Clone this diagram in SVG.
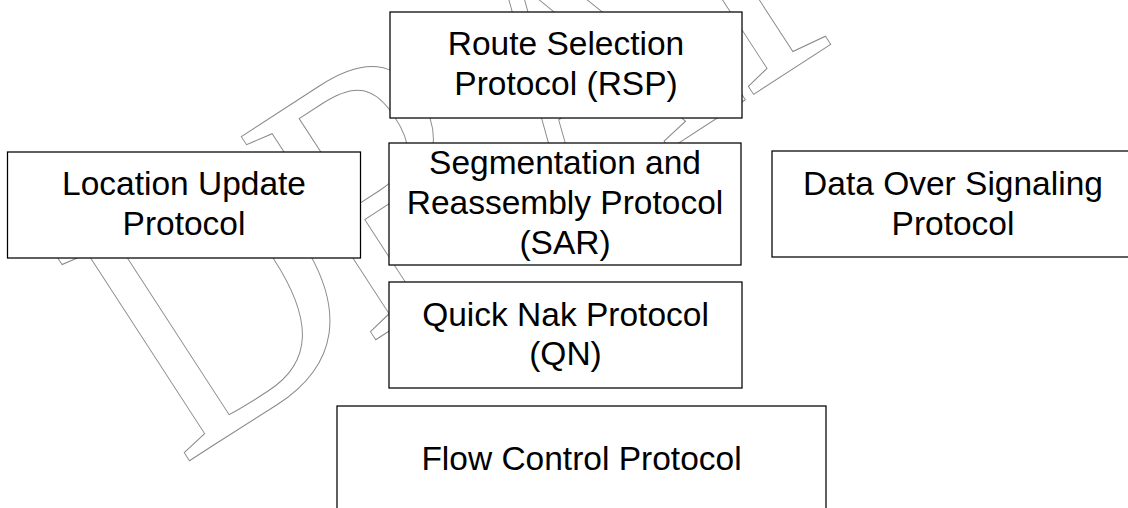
<svg xmlns="http://www.w3.org/2000/svg" width="1128" height="508" viewBox="0 0 1128 508">
  <style>
    .wm { font-family: "Liberation Serif", "Times New Roman", serif; font-size: 372px; fill: none; stroke: #8a8a8a; stroke-width: 1; }
    .box { fill: #ffffff; stroke: #000000; stroke-width: 1.25; }
    .lbl { font-family: "Liberation Sans", Arial, sans-serif; font-size: 33.5px; fill: #000000; text-anchor: middle; }
  </style>
  <rect x="0" y="0" width="1128" height="508" fill="#ffffff"/>
  <g id="watermark" transform="translate(186,463) rotate(-33) scale(0.88,1)">
    <text class="wm" x="-6 244 492 756 976" y="0" vector-effect="non-scaling-stroke">DRAFT</text>
  </g>
  <g id="connectors"></g>
  <g id="rsp">
    <rect class="box" x="390" y="12" width="352" height="106"/>
    <text class="lbl" x="566" y="55">Route Selection</text>
    <text class="lbl" x="566" y="95">Protocol (RSP)</text>
  </g>
  <g id="location">
    <rect class="box" x="7.5" y="152" width="353" height="106"/>
    <text class="lbl" x="184" y="195">Location Update</text>
    <text class="lbl" x="184" y="234.5">Protocol</text>
  </g>
  <g id="sar">
    <rect class="box" x="389" y="143" width="352" height="122"/>
    <text class="lbl" x="565" y="173.5">Segmentation and</text>
    <text class="lbl" x="565" y="213.5">Reassembly Protocol</text>
    <text class="lbl" x="565" y="253.5">(SAR)</text>
  </g>
  <g id="dos">
    <rect class="box" x="772" y="151" width="362" height="106"/>
    <text class="lbl" x="953" y="195">Data Over Signaling</text>
    <text class="lbl" x="953" y="235">Protocol</text>
  </g>
  <g id="qn">
    <rect class="box" x="389" y="282" width="353" height="106"/>
    <text class="lbl" x="565.5" y="325.5">Quick Nak Protocol</text>
    <text class="lbl" x="565.5" y="365">(QN)</text>
  </g>
  <g id="fcp">
    <rect class="box" x="337" y="406" width="489" height="110"/>
    <text class="lbl" x="581.5" y="470">Flow Control Protocol</text>
  </g>
</svg>
